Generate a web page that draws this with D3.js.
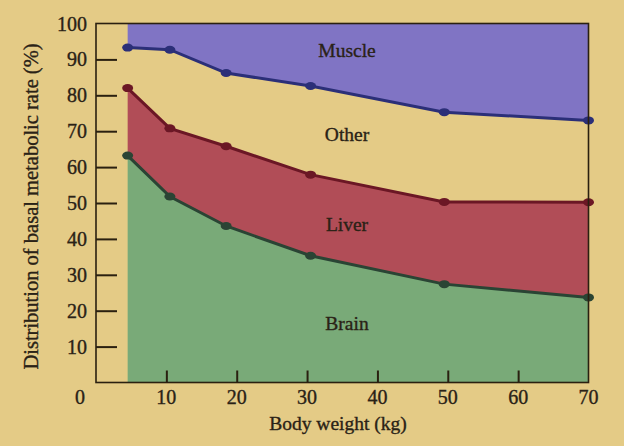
<!DOCTYPE html>
<html>
<head>
<meta charset="utf-8">
<script src="https://cdn.jsdelivr.net/npm/d3@7"></script>
<style>
  html, body { margin: 0; padding: 0; background: #e4cb86; }
  svg { display: block; }
  text { font-family: "Liberation Serif", "Times New Roman", serif; fill: #2a2216; stroke: #2a2216; stroke-width: 0.35px; }
</style>
</head>
<body>
<svg id="chart" width="624" height="446"></svg>
<script>
// ---- data ----
const bodyWeight = [4.5, 10.5, 18.5, 30.5, 49.5, 70];      // kg
const brainTop  = [63.2, 51.8, 43.6, 35.3, 27.4, 23.7];     // cumulative %
const liverTop  = [82.0, 70.8, 65.8, 57.9, 50.3, 50.2];     // cumulative %
const muscleBottom = [93.3, 92.7, 86.2, 82.6, 75.3, 73.0];  // cumulative %
const xTicks = [10, 20, 30, 40, 50, 60, 70];
const yTicks = [10, 20, 30, 40, 50, 60, 70, 80, 90, 100];
const regionLabels = ["Muscle", "Other", "Liver", "Brain"];
const regionLabelY = [92.4, 69, 44.1, 16.3];   // value positions of the labels
const xTitle = "Body weight (kg)";
const yTitle = "Distribution of basal metabolic rate (%)";

// ---- layout ----
const svg = d3.select("#chart");
const mLeft = 96, mRight = 588.5, mTop = 23.5, mBottom = 382.5;
const x = d3.scaleLinear().domain([0, 70]).range([mLeft, mRight]);
const y = d3.scaleLinear().domain([0, 100]).range([mBottom, mTop]);

const rows = bodyWeight.map((w, i) => ({ w, brain: brainTop[i], liver: liverTop[i], muscle: muscleBottom[i] }));

// areas
const area = (y0f, y1f) => d3.area().x(d => x(d.w)).y0(y0f).y1(y1f);
svg.append("path").datum(rows).attr("fill", "#79aa78")
  .attr("d", area(() => y(0), d => y(d.brain)));
svg.append("path").datum(rows).attr("fill", "#b14d57")
  .attr("d", area(d => y(d.brain), d => y(d.liver)));
svg.append("path").datum(rows).attr("fill", "#8074c4")
  .attr("d", area(() => y(100), d => y(d.muscle)));

// lines and points
const series = [
  { key: "muscle", color: "#2b2f78" },
  { key: "liver", color: "#6b1725" },
  { key: "brain", color: "#2a4434" }
];
series.forEach(s => {
  svg.append("path").datum(rows)
    .attr("fill", "none").attr("stroke", s.color).attr("stroke-width", 3)
    .attr("d", d3.line().x(d => x(d.w)).y(d => y(d[s.key])));
  svg.selectAll(null).data(rows).enter().append("ellipse")
    .attr("cx", d => x(d.w)).attr("cy", d => y(d[s.key]))
    .attr("rx", 5.5).attr("ry", 4).attr("fill", s.color);
});

// frame / axes
const axisColor = "#2a2010";
svg.append("rect").attr("x", mLeft).attr("y", mTop)
  .attr("width", mRight - mLeft).attr("height", mBottom - mTop)
  .attr("fill", "none").attr("stroke", axisColor).attr("stroke-width", 1.6);

// y ticks (inward) and labels
const yAxis = d3.axisRight(y).tickValues(yTicks.filter(v => v < 100)).tickSize(21).tickFormat("");
svg.append("g").attr("transform", `translate(${mLeft},0)`).call(yAxis)
  .call(g => g.select(".domain").remove())
  .call(g => g.selectAll("line").attr("stroke", axisColor).attr("stroke-width", 2));
svg.selectAll(null).data(yTicks).enter().append("text")
  .attr("x", mLeft - 9).attr("y", d => y(d) + 7)
  .attr("text-anchor", "end").style("font-size", "20px").text(d => d);

// x ticks (inward) and labels
const xAxis = d3.axisTop(x).tickValues(xTicks.filter(v => v < 70)).tickSize(12).tickFormat("");
svg.append("g").attr("transform", `translate(0,${mBottom})`).call(xAxis)
  .call(g => g.select(".domain").remove())
  .call(g => g.selectAll("line").attr("stroke", axisColor).attr("stroke-width", 2));
svg.selectAll(null).data(xTicks).enter().append("text")
  .attr("x", d => x(d)).attr("y", mBottom + 21.5)
  .attr("text-anchor", "middle").style("font-size", "20px").text(d => d);
// origin label
svg.append("text").attr("x", x(0) - 16).attr("y", mBottom + 21.5)
  .attr("text-anchor", "middle").style("font-size", "20px").text("0");

// region labels
svg.selectAll(null).data(regionLabels).enter().append("text")
  .attr("x", 347).attr("y", (d, i) => y(regionLabelY[i]) + 6.5)
  .attr("text-anchor", "middle").style("font-size", "19.5px").text(d => d);

// titles
svg.append("text").attr("x", 338).attr("y", 430)
  .attr("text-anchor", "middle").style("font-size", "19.5px").text(xTitle);
svg.append("text").attr("transform", "translate(37.5,206.5) rotate(-90)")
  .attr("text-anchor", "middle").style("font-size", "20.5px").text(yTitle);
</script>
</body>
</html>
